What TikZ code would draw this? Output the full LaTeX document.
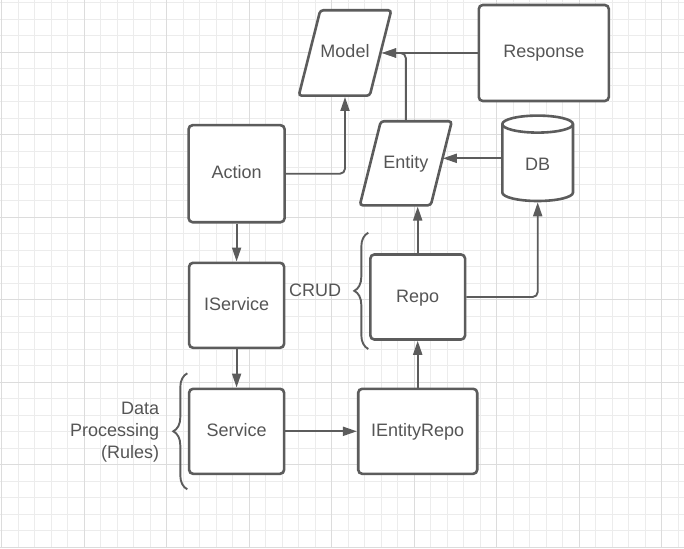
\documentclass[tikz,border=0pt]{standalone}
\usepackage{fontspec}
\setmainfont{Liberation Sans}
\usetikzlibrary{arrows.meta, decorations.pathreplacing}
\definecolor{ink}{RGB}{92,92,92}
\definecolor{txtc}{RGB}{85,85,85}
\definecolor{gridminor}{RGB}{236,236,236}
\definecolor{gridmajor}{RGB}{220,220,220}
\begin{document}
\begin{tikzpicture}[x=1pt,y=-1pt,
  box/.style={draw=ink, line width=2.6pt, rounded corners=4pt, fill=white, text=txtc,
    font=\fontsize{18}{21.8}\selectfont, text height=13pt, text depth=3pt, inner sep=0pt},
  outline/.style={fill=white, draw=ink, line width=2.6pt},
  ghost/.style={draw=none, inner sep=0pt, outer sep=0pt},
  conn/.style={draw=ink, line width=1.9pt},
  arr/.style={conn, -{Triangle[length=14pt,width=9pt]}},
  lbl/.style={text=txtc, font=\fontsize{18}{21.8}\selectfont, inner sep=0pt},
  capl/.style={lbl, text height=13pt, text depth=3pt},
  brc/.style={draw=ink, line width=1.9pt, decorate, decoration={brace, amplitude=14pt}}]
\fill[white] (0,0) rectangle (684,548);
\useasboundingbox (0,0) rectangle (684,548);
% grid
\foreach \i in {0,...,41} \draw[gridminor, line width=1pt] ({1.5+16.5*\i},0) -- ({1.5+16.5*\i},548);
\foreach \j in {0,...,33} \draw[gridminor, line width=1pt] (0,{2.8+16.5*\j}) -- (684,{2.8+16.5*\j});
\foreach \i in {0,...,8} \draw[gridmajor, line width=1pt] ({1.5+82.5*\i},0) -- ({1.5+82.5*\i},548);
\foreach \j in {0,...,6} \draw[gridmajor, line width=1pt] (0,{52.3+82.5*\j}) -- (684,{52.3+82.5*\j});

% Model (parallelogram)
\draw[outline, rounded corners=3pt] (320.25,10.3) -- (391.25,10.3) -- (369.75,95.7) -- (298.75,95.7) -- cycle;
\node[ghost, capl, minimum width=74pt, minimum height=88pt] (Model) at (345,53) {Model};
\node[box, minimum width=130pt, minimum height=96pt] (Response) at (543.8,53) {Response};
% Entity (parallelogram)
\draw[outline, rounded corners=3pt] (380.8,121.3) -- (451.8,121.3) -- (430.8,205.3) -- (359.8,205.3) -- cycle;
\node[ghost, capl, minimum width=74pt, minimum height=86.6pt] (Entity) at (405.8,163.3) {Entity};
% DB (cylinder)
\node[ghost, minimum width=73.3pt, minimum height=88pt] (DB) at (537.7,158.3) {};
\filldraw[outline]
  (502.3,124.1) -- (502.3,192.5)
  .. controls (502.3,197.19) and (518.13,201) .. (537.65,201)
  .. controls (557.17,201) and (573,197.19) .. (573,192.5)
  -- (573,124.1)
  .. controls (573,119.41) and (557.17,115.6) .. (537.65,115.6)
  .. controls (518.13,115.6) and (502.3,119.41) .. (502.3,124.1) -- cycle;
\draw[draw=ink, line width=2.6pt]
  (502.3,124.1) .. controls (502.3,128.79) and (518.13,132.6) .. (537.65,132.6)
  .. controls (557.17,132.6) and (573,128.79) .. (573,124.1);
\node[capl] (DBtext) at (537.7,165.2) {DB};
\node[box, minimum width=96pt, minimum height=97pt] (Action) at (236.6,173.7) {Action};
\node[box, minimum width=95pt, minimum height=85pt] (IService) at (236.6,305.3) {IService};
\node[box, minimum width=95pt, minimum height=85pt] (Service) at (236.6,431.3) {Service};
\node[box, minimum width=119pt, minimum height=85pt] (IEntityRepo) at (417.7,431.3) {IEntityRepo};
\node[box, minimum width=94.7pt, minimum height=85pt] (Repo) at (417.7,297) {Repo};

\node[capl, anchor=west] (crud) at (289,291.2) {CRUD};
\node[lbl, anchor=east, align=right] (dp) at (159.3,431.9) {Data\\Processing\\(Rules)};

% braces
\draw[brc] (368.3,349) -- (368.3,232.7);
\draw[brc] (187.3,489.3) -- (187.3,373.3);

% connectors
\draw[arr] (Response.west) -- (Model.east);
\draw[arr, rounded corners=5pt] (Entity.north) |- (Model.east);
\draw[arr, rounded corners=5pt] (Action.east) -| (Model.south);
\draw[arr] (DB.west) -- (DB.west -| Entity.east);
\draw[arr] (Repo.north) -- (Repo.north |- Entity.south);
\draw[arr, rounded corners=5pt] (Repo.east) -| (DB.south);
\draw[arr] (Action.south) -- (IService.north);
\draw[arr] (IService.south) -- (Service.north);
\draw[arr] (Service.east) -- (IEntityRepo.west);
\draw[arr] (IEntityRepo.north) -- (Repo.south);
\end{tikzpicture}
\end{document}
